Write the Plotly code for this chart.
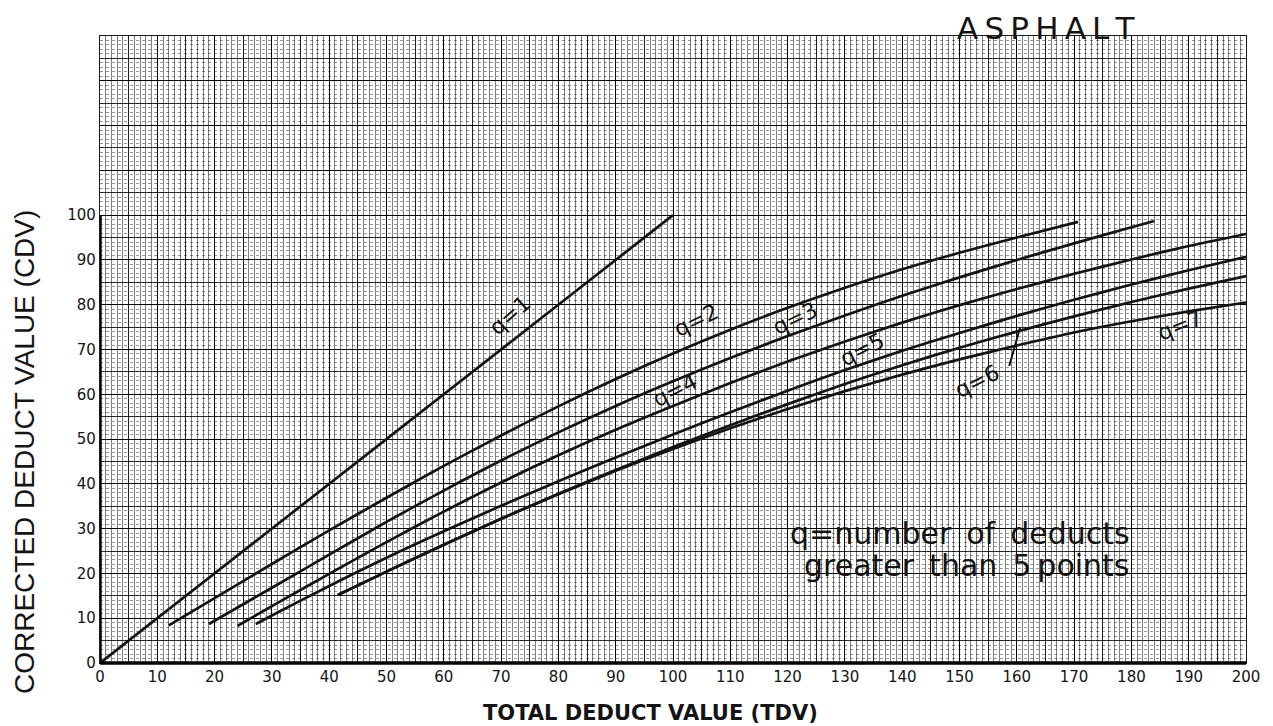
import plotly.graph_objects as go

# ---- data (TDV -> CDV) ----
tdv_q1 = [0, 100]
cdv_q1 = [0, 100]

tdv_q2 = [12, 20, 30, 40, 50, 60, 70, 80, 90, 100, 110, 120, 130, 140, 150, 160, 170.7]
cdv_q2 = [8.4, 14.5, 22.1, 29.6, 36.9, 44.0, 50.8, 57.3, 63.4, 69.1, 74.4, 79.3, 83.8, 87.9, 91.6, 95.0, 98.5]

tdv_q3 = [19, 30, 40, 50, 60, 70, 80, 90, 100, 110, 120, 130, 140, 150, 160, 170, 180, 184]
cdv_q3 = [8.7, 16.8, 24.2, 31.5, 38.5, 45.2, 51.5, 57.4, 62.9, 68.1, 73.0, 77.6, 82.0, 86.1, 90.0, 93.7, 97.3, 98.7]

tdv_q4 = [24, 30, 40, 50, 60, 70, 80, 90, 100, 110, 120, 130, 140, 150, 160, 170, 180, 190, 200]
cdv_q4 = [8.3, 12.7, 19.9, 27.0, 33.8, 40.3, 46.4, 52.1, 57.4, 62.5, 67.3, 71.8, 76.0, 79.9, 83.5, 86.9, 90.1, 93.1, 95.8]

tdv_q5 = [27.2, 30, 40, 50, 60, 70, 80, 90, 100, 110, 120, 130, 140, 150, 160, 170, 180, 190, 200]
cdv_q5 = [8.7, 10.6, 17.2, 23.5, 29.4, 35.1, 40.6, 45.9, 51.0, 56.0, 60.8, 65.4, 69.7, 73.7, 77.5, 81.1, 84.5, 87.7, 90.7]

tdv_q6 = [41.5, 50, 60, 70, 80, 90, 100, 110, 120, 130, 140, 150, 160, 170, 180, 190, 200]
cdv_q6 = [15.2, 20.4, 26.4, 32.2, 37.8, 43.1, 48.2, 53.1, 57.8, 62.3, 66.5, 70.4, 74.0, 77.4, 80.6, 83.6, 86.4]

tdv_q7 = [41.5, 50, 60, 70, 80, 90, 100, 110, 120, 130, 140, 150, 160, 170, 180, 190, 200]
cdv_q7 = [15.2, 20.4, 26.4, 32.2, 37.7, 42.9, 47.8, 52.4, 56.7, 60.7, 64.4, 67.8, 70.9, 73.8, 76.3, 78.5, 80.5]

series = [
    (tdv_q1, cdv_q1), (tdv_q2, cdv_q2), (tdv_q3, cdv_q3), (tdv_q4, cdv_q4),
    (tdv_q5, cdv_q5), (tdv_q6, cdv_q6), (tdv_q7, cdv_q7),
]

# curve labels: (text, x, y, angle)
q_labels = [
    ("q=1", 71.5, 77.5, -42),
    ("q=2", 104.0, 76.5, -26),
    ("q=3", 121.3, 76.9, -26),
    ("q=4", 100.3, 60.8, -27),
    ("q=5", 133.0, 70.0, -27),
    ("q=6", 153.0, 62.8, -27),
    ("q=7", 188.5, 75.4, -22),
]

x_ticks = list(range(0, 201, 10))
y_ticks = list(range(0, 141, 10))
y_ticktext = [str(v) if v <= 100 else "" for v in y_ticks]

LABEL_FONT = "DejaVu Sans"
INK = "#141414"

fig = go.Figure()

for tx, cy in series:
    fig.add_trace(go.Scatter(
        x=tx, y=cy, mode="lines",
        line=dict(color=INK, width=2.7, shape="spline", smoothing=0.7),
        hoverinfo="skip", showlegend=False,
    ))

# invisible trace so the 5-unit overlay grid axes are rendered
fig.add_trace(go.Scatter(x=[0, 200], y=[0, 140], xaxis="x2", yaxis="y2",
                         mode="lines", line=dict(width=0), opacity=0,
                         hoverinfo="skip", showlegend=False))

# page has an 8px body margin; figure sized so it ends at the window's edge
fig.update_layout(
    width=1265, height=718,
    margin=dict(l=92, r=27, t=28, b=63, autoexpand=False),
    paper_bgcolor="white",
    plot_bgcolor="white",
    showlegend=False,
    xaxis=dict(
        range=[0, 200], tickmode="array", tickvals=x_ticks,
        ticktext=[str(v) for v in x_ticks], automargin=False,
        showgrid=True, gridcolor="#1a1a1a", gridwidth=1.3,
        minor=dict(dtick=1, showgrid=True, gridcolor="rgba(0,0,0,0.5)", gridwidth=1),
        showline=True, linecolor="#1a1a1a", linewidth=1.3, mirror=True,
        ticks="", zeroline=False,
        tickfont=dict(family=LABEL_FONT, size=15, color=INK),
        fixedrange=True,
    ),
    yaxis=dict(
        range=[0, 140], tickmode="array", tickvals=y_ticks, ticktext=y_ticktext,
        automargin=False,
        showgrid=True, gridcolor="#1a1a1a", gridwidth=1.3,
        minor=dict(dtick=1, showgrid=True, gridcolor="rgba(0,0,0,0.4)", gridwidth=1, griddash="dot"),
        showline=True, linecolor="#1a1a1a", linewidth=1.3, mirror=True,
        ticks="", zeroline=False,
        tickfont=dict(family=LABEL_FONT, size=15, color=INK),
        fixedrange=True,
    ),
    xaxis2=dict(range=[0, 200], overlaying="x", dtick=5, showgrid=True, automargin=False,
                gridcolor="rgba(0,0,0,0.75)", gridwidth=1,
                showticklabels=False, ticks="", zeroline=False, showline=False),
    yaxis2=dict(range=[0, 140], overlaying="y", dtick=5, showgrid=True, automargin=False,
                gridcolor="rgba(0,0,0,0.8)", gridwidth=1.2,
                showticklabels=False, ticks="", zeroline=False, showline=False),
)

# heavy axes: bottom full width, left only 0..100
fig.add_shape(type="line", xref="paper", yref="paper", x0=0, x1=1, y0=0, y1=0,
              line=dict(color="#000000", width=3.5))
fig.add_shape(type="line", xref="x", yref="y", x0=0, x1=0, y0=0, y1=100,
              line=dict(color="#000000", width=3.5))

for text, x, y, ang in q_labels:
    fig.add_annotation(x=x, y=y, text=text, showarrow=False, textangle=ang,
                       xanchor="center", yanchor="middle",
                       font=dict(family=LABEL_FONT, size=22, color=INK))

# leader for q=6
fig.add_annotation(x=160.6, y=75.0, ax=158.6, ay=66.0, axref="x", ayref="y",
                   text="", showarrow=True, arrowhead=0, arrowwidth=2, arrowcolor=INK)

fig.add_annotation(x=150.1, y=28.9, text="q=number\u2002of\u2002deducts", showarrow=False,
                   xanchor="center", yanchor="middle",
                   font=dict(family=LABEL_FONT, size=30, color=INK))
fig.add_annotation(x=151.3, y=21.7, text="greater\u2002than\u20025\u2009points", showarrow=False,
                   xanchor="center", yanchor="middle",
                   font=dict(family=LABEL_FONT, size=30, color=INK))

fig.add_annotation(xref="paper", yref="paper", x=0.8255, y=(663 - 28) / 627,
                   xanchor="center", yanchor="middle",
                   text="A\u2009S\u2009P\u2009H\u2009A\u2009L\u2009T", showarrow=False,
                   font=dict(family=LABEL_FONT, size=31, color=INK))

fig.add_annotation(xref="paper", yref="paper", x=(24 - 100) / 1146, y=(663 - 452) / 627,
                   xanchor="center", yanchor="middle",
                   text="CORRECTED DEDUCT VALUE (CDV)", showarrow=False, textangle=-90,
                   font=dict(family="Liberation Sans, Arial, sans-serif", size=28, color=INK))

fig.add_annotation(xref="paper", yref="paper", x=(650 - 100) / 1146, y=(663 - 713) / 627,
                   xanchor="center", yanchor="middle",
                   text="<b>TOTAL DEDUCT VALUE (TDV)</b>", showarrow=False,
                   font=dict(family="DejaVu Sans", size=21, color=INK))

fig.write_html("out.html")
